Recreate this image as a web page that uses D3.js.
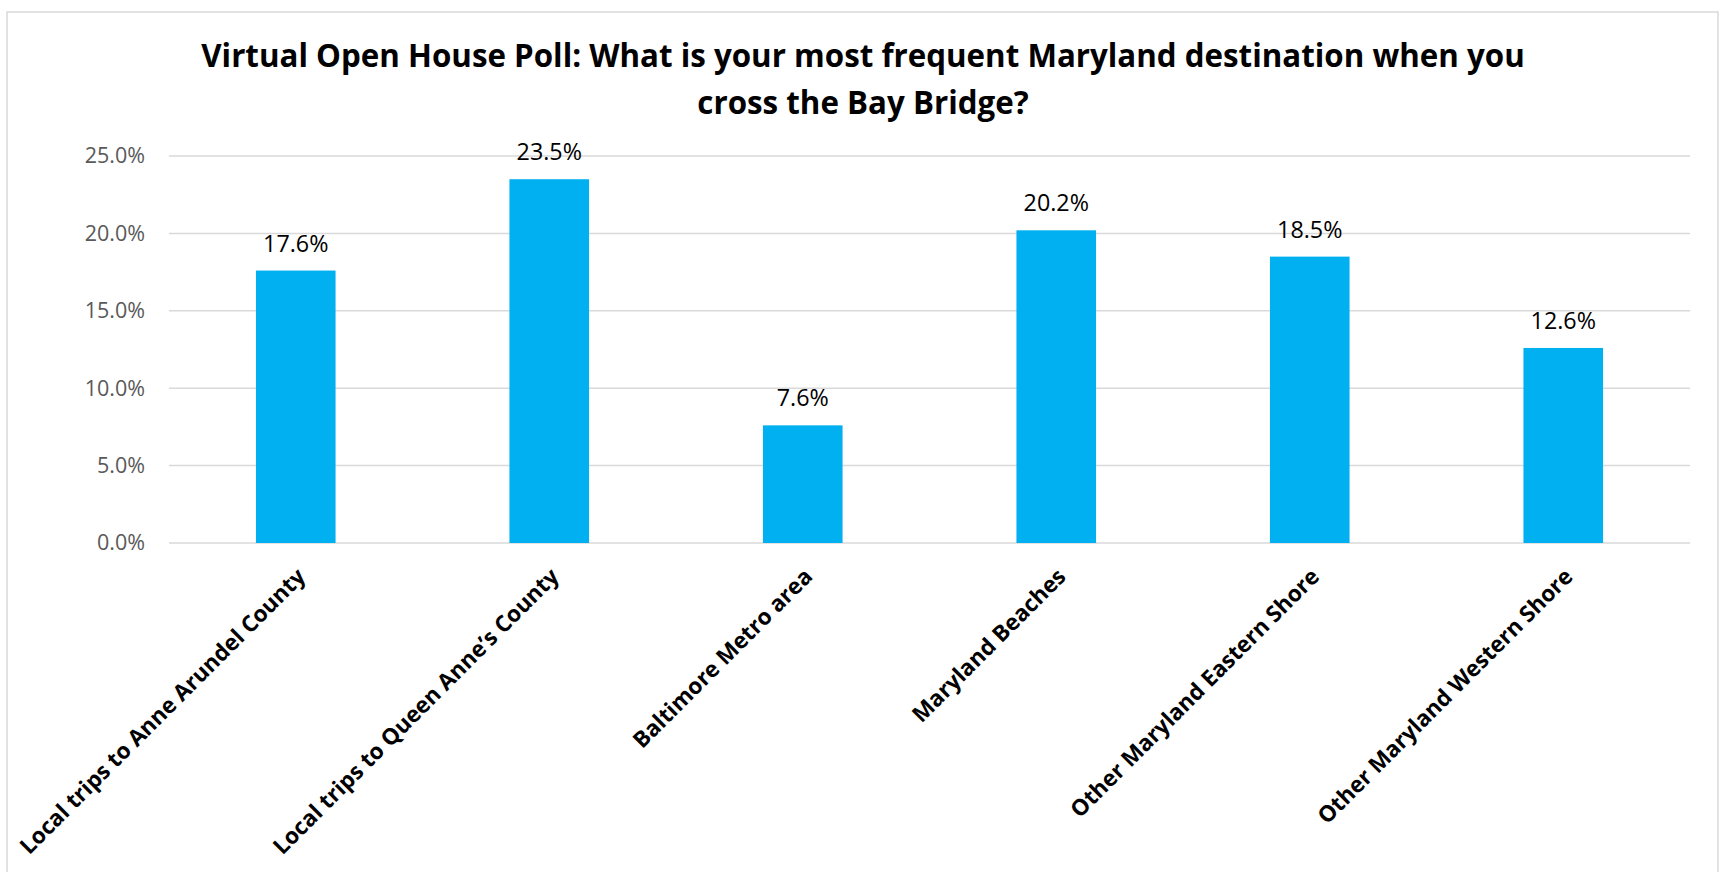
<!DOCTYPE html>
<html>
<head>
<meta charset="utf-8">
<script src="https://cdn.jsdelivr.net/npm/d3@7"></script>
<style>
  body { margin: 0; background: #fff; }
  text { font-family: "Open Sans", sans-serif; }
</style>
</head>
<body>
<div id="chart"></div>
<script>
const categories = [
    "Local trips to Anne Arundel County",
    "Local trips to Queen Anne\u2019s County",
    "Baltimore Metro area",
    "Maryland Beaches",
    "Other Maryland Eastern Shore",
    "Other Maryland Western Shore"
];
const values = [0.176, 0.235, 0.076, 0.202, 0.185, 0.126];
const yTicks = [0, 0.05, 0.10, 0.15, 0.20, 0.25];
const titleLines = [
    "Virtual Open House Poll: What is your most frequent Maryland destination when you",
    "cross the Bay Bridge?"
];

const width = 1720, height = 872;
const plot = { left: 169, right: 1690, top: 156, bottom: 543 };

const svg = d3.select("#chart").append("svg")
    .attr("width", width)
    .attr("height", height);

// chart frame
svg.append("rect")
    .attr("x", 7)
    .attr("y", 12)
    .attr("width", 1711)
    .attr("height", height)
    .attr("fill", "#fff")
    .attr("stroke", "#d9d9d9")
    .attr("stroke-width", 1.5);

// title
svg.append("g").selectAll("text")
    .data(titleLines)
    .enter().append("text")
    .attr("x", 863)
    .attr("y", (d, i) => 67 + i * 47)
    .attr("text-anchor", "middle")
    .attr("font-size", 31.3)
    .attr("font-weight", "bold")
    .attr("fill", "#000")
    .text(d => d);

const x = d3.scaleBand()
    .domain(categories)
    .range([plot.left, plot.right])
    .paddingInner(0.686)
    .paddingOuter(0.343);

const y = d3.scaleLinear()
    .domain([0, 0.25])
    .range([plot.bottom, plot.top]);

// gridlines
svg.append("g")
    .selectAll("line")
    .data(yTicks)
    .enter().append("line")
    .attr("x1", plot.left)
    .attr("x2", plot.right)
    .attr("y1", d => y(d))
    .attr("y2", d => y(d))
    .attr("stroke", "#d9d9d9")
    .attr("stroke-width", 1.5);

// y axis labels
const yAxis = d3.axisLeft(y)
    .tickValues(yTicks)
    .tickFormat(d3.format(".1%"))
    .tickSize(0)
    .tickPadding(24);

svg.append("g")
    .attr("transform", `translate(${plot.left},0)`)
    .call(yAxis)
    .call(g => g.select(".domain").remove())
    .selectAll("text")
    .attr("font-family", "Open Sans")
    .attr("font-size", 21.5)
    .attr("fill", "#595959");

// bars
svg.append("g")
    .selectAll("rect")
    .data(values)
    .enter().append("rect")
    .attr("x", (d, i) => x(categories[i]))
    .attr("y", d => y(d))
    .attr("width", x.bandwidth())
    .attr("height", d => y(0) - y(d))
    .attr("fill", "#00b0f0");

// data labels
svg.append("g")
    .selectAll("text")
    .data(values)
    .enter().append("text")
    .attr("x", (d, i) => x(categories[i]) + x.bandwidth() / 2)
    .attr("y", d => y(d) - 19)
    .attr("text-anchor", "middle")
    .attr("font-size", 23.3)
    .attr("fill", "#000")
    .text(d => d3.format(".1%")(d));

// category labels, rotated
svg.append("g")
    .selectAll("text")
    .data(categories)
    .enter().append("text")
    .attr("transform", d => `translate(${x(d) + x.bandwidth() / 2 + 11},${plot.bottom + 35}) rotate(-45)`)
    .attr("text-anchor", "end")
    .attr("font-size", 22.5)
    .attr("font-weight", "bold")
    .attr("fill", "#000")
    .text(d => d);
</script>
</body>
</html>
